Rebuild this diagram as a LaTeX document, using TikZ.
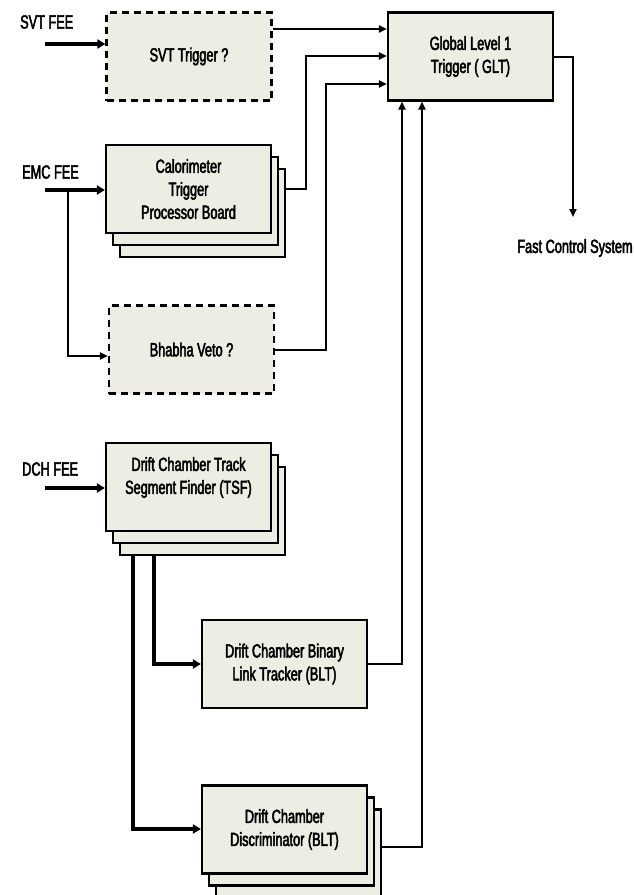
\documentclass[tikz,border=0pt]{standalone}
\usepackage{fontspec}
\setmainfont{Liberation Sans}[FakeStretch=0.67,FakeBold=2.5]
\usepackage{tikz}
\usetikzlibrary{arrows.meta,shadows,calc}

\definecolor{boxfill}{RGB}{238,237,228}

\tikzset{
    trigbox/.style={draw, line width=2.2pt, fill=boxfill, minimum width=165pt,
        minimum height=88pt, inner sep=0pt, align=center,
        font=\fontsize{19}{23}\selectfont},
    maybebox/.style={trigbox, dash pattern=on 7pt off 5pt},
    stackbox/.style={trigbox, double copy shadow={shadow xshift=7pt, shadow yshift=-12pt}},
    feed/.style={line width=3.2pt, -{Triangle[length=8pt,width=9pt]}},
    link/.style={line width=2pt, -{Triangle[length=8pt,width=7pt]}},
    lbl/.style={font=\fontsize{19}{23}\selectfont, inner sep=0pt}
}

\begin{document}
\begin{tikzpicture}[x=1pt,y=-1pt]
    \useasboundingbox (0,0) rectangle (633,895);

    % Draw boxes
    \node[maybebox] (svt) at (189,56.5) {SVT Trigger ?};
    \node[trigbox] (glt) at (470.5,56.5) {Global Level 1\\Trigger ( GLT)};
    \node[stackbox] (calo) at (188.5,189) {Calorimeter\\Trigger\\Processor Board};
    \node[maybebox] (bhabha) at (191.5,349.5) {Bhabha Veto ?};
    \node[stackbox] (tsf) at (188.5,487) {Drift Chamber Track\\Segment Finder (TSF)\\\mbox{}};
    \node[trigbox] (blt) at (284.5,664) {Drift Chamber Binary\\Link Tracker (BLT)};
    \node[stackbox] (disc) at (284.5,829.5) {Drift Chamber\\Discriminator (BLT)};

    % Front end labels
    \node[lbl, anchor=west] (svtfee) at (20,22) {SVT FEE};
    \node[lbl, anchor=west] (emcfee) at (22,172) {EMC FEE};
    \node[lbl, anchor=west] (dchfee) at (22,469) {DCH FEE};
    \node[lbl] (fcs) at (575,248) {Fast Control System};

    \coordinate (svtin) at (45,44);
    \coordinate (emcin) at (45,190);
    \coordinate (dchin) at (45,488);

    % Inputs
    \draw[feed] (svtin) -- (svtin -| svt.west);
    \draw[feed] (emcin) -- (emcin -| calo.west);
    \draw[link] (68,190) -- (68,356) -- (bhabha.west |- 0,356);
    \draw[feed] (dchin) -- (dchin -| tsf.west);

    % Into the global trigger
    \draw[link] (svt.east |- 0,29) -- (glt.west |- 0,29);
    \draw[link] ($(calo.east)+(14,0)$) -- (306,189) -- (306,56) -- (glt.west |- 0,56);
    \draw[link] (bhabha.east |- 0,350) -- (326,350) -- (326,84) -- (glt.west |- 0,84);

    % Drift chamber chain
    \draw[feed] (154,555) -- (154,664) -- (blt.west);
    \draw[feed] (133,555) -- (133,829) -- (disc.west |- 0,829);
    \draw[link] (blt.east) -- (402,664) -- (glt.south -| 402,0);
    \draw[link] ($(disc.east)+(14,17.5)$) -- (422,847) -- (glt.south -| 422,0);

    % Output
    \draw[link] (glt.east) -- (573,56.5) -- (573,217);
\end{tikzpicture}
\end{document}
